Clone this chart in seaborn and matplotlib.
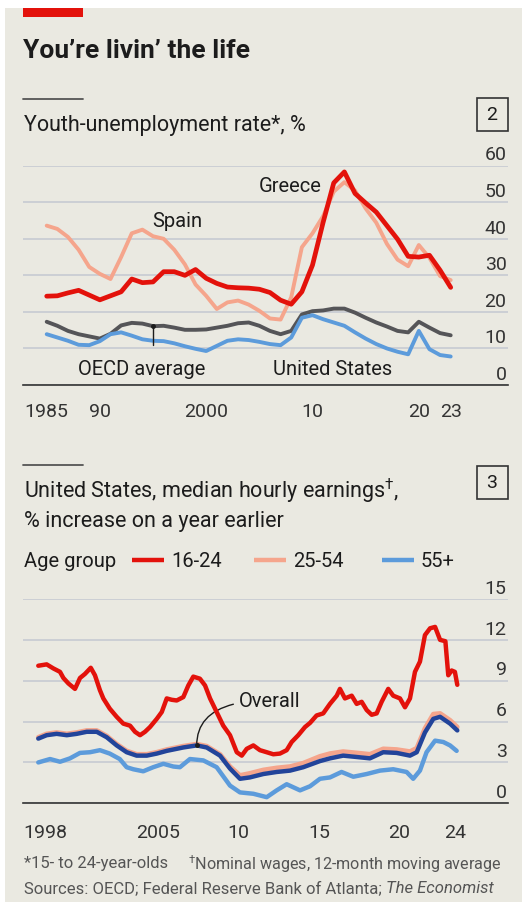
import numpy as np
import pandas as pd
import seaborn as sns
import matplotlib.pyplot as plt
from matplotlib.patches import Rectangle
from matplotlib.lines import Line2D

# ---- chart 2: youth-unemployment rate, %, annual
years = list(range(1985, 2024))
greece = [24.3, 24.4, 25.2, 25.9, 24.6, 23.3, 24.4, 25.5, 29.0, 28.0, 28.2, 31.0, 31.0, 30.0,
          31.6, 29.2, 27.8, 26.8, 26.6, 26.5, 26.2, 25.3, 23.2, 22.1, 25.5, 32.8, 44.5, 55.3,
          58.3, 52.4, 49.8, 47.3, 43.6, 39.9, 35.2, 35.0, 35.5, 31.4, 26.7]
spain = [43.6, 42.7, 40.5, 37.0, 32.3, 30.4, 29.0, 35.0, 41.5, 42.5, 40.7, 40.0, 37.0, 33.0,
         27.5, 24.4, 20.8, 22.6, 23.1, 22.0, 20.3, 18.2, 17.9, 24.0, 37.7, 41.5, 46.2, 52.9,
         55.5, 53.2, 48.3, 44.4, 38.6, 34.3, 32.5, 38.3, 34.8, 29.8, 28.7]
oecd = [17.3, 16.2, 14.8, 13.9, 13.3, 12.7, 14.0, 16.3, 17.0, 16.8, 16.1, 16.2, 15.7, 15.1,
        15.1, 15.2, 15.7, 16.2, 16.9, 17.1, 16.2, 14.8, 13.9, 14.8, 19.3, 20.2, 20.4, 20.9,
        20.9, 19.8, 18.4, 17.1, 16.0, 14.8, 14.4, 17.3, 15.7, 14.2, 13.6]
usa = [13.9, 13.0, 12.1, 11.0, 10.9, 12.0, 13.9, 14.4, 13.5, 12.5, 12.1, 12.0, 11.4, 10.6,
       9.9, 9.3, 10.7, 12.1, 12.5, 12.3, 11.8, 11.2, 10.9, 13.0, 18.4, 19.1, 18.0, 17.1,
       16.2, 14.4, 12.7, 11.2, 10.0, 9.1, 8.4, 14.8, 9.8, 8.2, 7.8]

top_ticks = [1985, 1990, 2000, 2010, 2020, 2023]
top_ticklabels = ["1985", "90", "2000", "10", "20", "23"]
top_ylevels = [0, 10, 20, 30, 40, 50, 60]

# ---- chart 3: median hourly earnings growth, % y/y (dates in decimal years)
t_1624 = [1998.06, 1998.58, 1999.0, 1999.41, 1999.62, 1999.93, 2000.34, 2000.65, 2000.96,
          2001.32, 2001.58, 2001.89, 2002.1, 2002.5, 2002.93, 2003.34, 2003.76, 2004.07,
          2004.38, 2004.69, 2005.0, 2005.42, 2005.73, 2006.04, 2006.35, 2006.66, 2007.07,
          2007.38, 2007.69, 2008.1, 2008.42, 2008.73, 2009.14, 2009.55, 2009.97, 2010.39,
          2010.7, 2011.01, 2011.42, 2011.83, 2012.25, 2012.66, 2013.07, 2013.49, 2013.8,
          2014.21, 2014.63, 2014.94, 2015.35, 2015.76, 2016.18, 2016.6, 2016.8, 2017.11,
          2017.53, 2017.84, 2018.15, 2018.46, 2018.77, 2019.08, 2019.39, 2019.8, 2020.11,
          2020.53, 2020.84, 2021.15, 2021.46, 2021.77, 2022.08, 2022.4, 2022.71, 2023.02,
          2023.35, 2023.53, 2023.74, 2023.94, 2024.09]
v_1624 = [10.1, 10.2, 9.9, 9.65, 9.2, 8.8, 8.4, 9.2, 9.5, 9.95, 9.4, 8.3, 7.7, 6.95, 6.35,
          5.85, 5.7, 5.25, 5.0, 5.25, 5.6, 6.2, 6.7, 7.7, 7.6, 7.55, 7.8, 8.65, 9.3, 9.15,
          8.65, 7.7, 6.7, 5.7, 5.0, 3.75, 3.5, 4.0, 4.25, 3.9, 3.75, 3.6, 3.65, 3.9, 4.5,
          5.0, 5.6, 5.9, 6.45, 6.6, 7.3, 7.9, 8.4, 7.7, 7.9, 7.3, 7.45, 6.85, 6.5, 6.6, 7.45,
          8.4, 7.9, 7.7, 7.05, 7.7, 9.65, 10.4, 12.35, 12.85, 12.95, 12.0, 11.9, 9.4, 9.75,
          9.65, 8.7]

t_all = [1998.06, 1998.58, 1999.2, 1999.83, 2000.45, 2001.07, 2001.69, 2002.31, 2002.93,
         2003.55, 2004.17, 2004.8, 2005.42, 2006.04, 2006.66, 2007.07, 2007.9, 2008.52,
         2009.35, 2009.97, 2010.59, 2011.2, 2012.04, 2012.87, 2013.7, 2014.52, 2015.56,
         2016.18, 2017.0, 2017.84, 2018.66, 2019.49, 2020.32, 2021.15, 2021.57, 2022.08,
         2022.6, 2023.02, 2023.64, 2024.09]
v_all = [4.75, 5.0, 5.1, 5.0, 5.1, 5.25, 5.25, 4.85, 4.25, 3.75, 3.5, 3.5, 3.65, 3.85, 4.0,
         4.1, 4.25, 4.1, 3.5, 2.55, 1.8, 1.9, 2.15, 2.3, 2.4, 2.65, 3.1, 3.3, 3.5, 3.4, 3.3,
         3.75, 3.7, 3.5, 3.75, 5.2, 6.2, 6.35, 5.85, 5.35]
v_2554 = [4.85, 5.1, 5.2, 5.1, 5.2, 5.35, 5.35, 4.95, 4.35, 3.85, 3.6, 3.6, 3.75, 3.95, 4.1,
          4.2, 4.35, 4.2, 3.6, 2.7, 2.05, 2.2, 2.45, 2.6, 2.7, 2.95, 3.45, 3.65, 3.8, 3.7,
          3.6, 4.0, 3.95, 3.8, 4.05, 5.5, 6.55, 6.6, 6.1, 5.6]

t_55 = [1998.06, 1998.79, 1999.41, 2000.03, 2000.65, 2001.27, 2001.89, 2002.5, 2003.12,
        2003.55, 2003.96, 2004.58, 2005.2, 2005.83, 2006.45, 2006.86, 2007.48, 2008.31,
        2009.14, 2009.97, 2010.59, 2011.42, 2012.25, 2012.87, 2013.49, 2014.32, 2014.94,
        2015.56, 2016.18, 2016.9, 2017.63, 2018.46, 2019.29, 2020.11, 2020.94, 2021.35,
        2021.77, 2022.18, 2022.71, 2023.22, 2023.64, 2024.05]
v_55 = [3.0, 3.25, 3.05, 3.3, 3.7, 3.75, 3.9, 3.65, 3.25, 2.65, 2.5, 2.35, 2.65, 2.9, 2.7,
        2.65, 3.25, 3.15, 2.65, 1.3, 0.8, 0.7, 0.45, 0.95, 1.4, 0.95, 1.25, 1.8, 1.9, 2.3,
        1.95, 2.15, 2.4, 2.5, 2.3, 1.8, 2.4, 3.75, 4.6, 4.5, 4.25, 3.85]

bot_ticks = [1998.5, 2005.5, 2010.5, 2015.5, 2020.5, 2023.97]
bot_ticklabels = ["1998", "2005", "10", "15", "20", "24"]
bot_ylevels = [0, 3, 6, 9, 12, 15]

# colours
RED = "#E3120B"
SALMON = "#F5A58C"
BLUE = "#5C9BDB"
DARKBLUE = "#22449A"
GREY = "#555558"
BG = "#EAE9E1"
GRID = "#C9CDD3"
INK = "#1C1C1C"
AXC = "#333333"

sns.set_style("white")
plt.rcParams["font.family"] = ["Roboto", "DejaVu Sans"]
plt.rcParams["mathtext.fontset"] = "custom"
plt.rcParams["mathtext.rm"] = "Roboto"
plt.rcParams["mathtext.it"] = "Roboto"

W, H = 522, 903
fig = plt.figure(figsize=(W / 100, H / 100), dpi=100)
fig.patch.set_facecolor("white")


def fx(x):
    return x / W


def fy(y):
    return 1 - y / H


fig.add_artist(Rectangle((fx(5), 0), 1 - fx(5), fy(9), transform=fig.transFigure,
                         facecolor=BG, edgecolor="none", zorder=-10))
fig.add_artist(Rectangle((fx(23), fy(18)), fx(83) - fx(23), fy(9) - fy(18),
                         transform=fig.transFigure, facecolor=RED, edgecolor="none"))

fig.text(fx(23), fy(51), "You\u2019re livin\u2019 the life", fontsize=19, fontweight="bold",
         color=INK, va="center", ha="left")


def section_head(y_rule, lines, num, y_box):
    fig.add_artist(Line2D([fx(23), fx(83)], [fy(y_rule), fy(y_rule)], color="#555555",
                          lw=1.3, transform=fig.transFigure))
    for ytxt, s in lines:
        fig.text(fx(24), fy(ytxt), s, fontsize=15.5, color=INK, va="center", ha="left")
    fig.add_artist(Rectangle((fx(476.5), fy(y_box + 33)), fx(31), 33 / H,
                             transform=fig.transFigure, facecolor="none",
                             edgecolor=AXC, lw=1.2))
    fig.text(fx(492), fy(y_box + 16.5), num, fontsize=14, color=INK, ha="center",
             va="center")


section_head(99.5, [(125, "Youth-unemployment rate*, %")], "2", 99)
section_head(466, [(491, "United States, median hourly earnings$^{\u2020}$,"),
                   (521, "% increase on a year earlier")], "3", 467)


def style_axes(ax, ylevels, ylim, xlim):
    ax.set_facecolor("none")
    ax.set_xlim(*xlim)
    ax.set_ylim(*ylim)
    ax.set(xlabel="", ylabel="")
    for s in ["left", "top", "right"]:
        ax.spines[s].set_visible(False)
    ax.spines["bottom"].set_color(AXC)
    ax.spines["bottom"].set_linewidth(1.2)
    ax.set_yticks(ylevels)
    ax.tick_params(axis="y", length=0, labelleft=False)
    ax.yaxis.grid(True, color=GRID, lw=1.3)
    ax.set_axisbelow(True)
    for v in ylevels:
        ax.annotate(str(v), xy=(1, v), xycoords=("axes fraction", "data"),
                    xytext=(-1, 4.5), textcoords="offset points", ha="right",
                    va="baseline", fontsize=14, color=AXC)


# ---------------- top chart
ax1 = fig.add_axes([fx(23), fy(386), fx(508) - fx(23), (386 - 166.7) / H])
df_top = pd.DataFrame({"year": years, "Greece": greece, "Spain": spain,
                       "OECD average": oecd, "United States": usa})
sns.lineplot(data=df_top, x="year", y="Spain", color=SALMON, lw=2.8, ax=ax1, zorder=3)
sns.lineplot(data=df_top, x="year", y="OECD average", color=GREY, lw=2.8, ax=ax1, zorder=3)
sns.lineplot(data=df_top, x="year", y="United States", color=BLUE, lw=2.8, ax=ax1, zorder=3)
sns.lineplot(data=df_top, x="year", y="Greece", color=RED, lw=3.4, ax=ax1, zorder=4)
style_axes(ax1, top_ylevels, (0, 60), (1982.77, 2028.39))
ax1.set_xticks(top_ticks, top_ticklabels)
ax1.set_xticks(years, minor=True)
ax1.tick_params(axis="x", which="both", direction="out", length=4.5, width=1, color=AXC,
                labelsize=14, labelcolor=AXC, pad=8)

ax1.text(2010.9, 54.5, "Greece", fontsize=14.5, color=INK, ha="right", va="center")
ax1.text(1997.3, 45.0, "Spain", fontsize=14.5, color=INK, ha="center", va="center")
ax1.text(2011.9, 4.4, "United States", fontsize=14.5, color=INK, ha="center", va="center")
ax1.annotate("OECD average", xy=(1995, oecd[years.index(1995)]), xytext=(1993.9, 4.4),
             fontsize=14.5, color=INK, ha="center", va="center",
             arrowprops=dict(arrowstyle="-", color=INK, lw=1, shrinkA=8, shrinkB=0,
                             connectionstyle="angle,angleA=0,angleB=90,rad=0",
                             relpos=(0.56, 1.0)))
ax1.plot([1995], [oecd[years.index(1995)]], "o", color=INK, ms=2.5, zorder=6)

# ---------------- bottom chart
ax2 = fig.add_axes([fx(23), fy(804.3), fx(508) - fx(23), (804.3 - 600) / H])
df_a = pd.DataFrame({"t": t_all, "overall": v_all, "25-54": v_2554})
df_y = pd.DataFrame({"t": t_1624, "16-24": v_1624})
df_o = pd.DataFrame({"t": t_55, "55+": v_55})
sns.lineplot(data=df_o, x="t", y="55+", color=BLUE, lw=3.2, ax=ax2, zorder=3)
sns.lineplot(data=df_a, x="t", y="25-54", color=SALMON, lw=3.4, ax=ax2, zorder=3)
sns.lineplot(data=df_a, x="t", y="overall", color=DARKBLUE, lw=3.2, ax=ax2, zorder=4)
sns.lineplot(data=df_y, x="t", y="16-24", color=RED, lw=3.2, ax=ax2, zorder=5)
style_axes(ax2, bot_ylevels, (0, 15), (1997.11, 2027.24))
ax2.set_xticks(bot_ticks, bot_ticklabels)
ax2.set_xticks(list(range(1998, 2025)), minor=True)
ax2.tick_params(axis="x", which="major", length=0, labelsize=14, labelcolor=AXC, pad=14)
ax2.tick_params(axis="x", which="minor", direction="out", length=5, width=1, color=AXC)

ax2.annotate("Overall", xy=(2007.9, 4.25), xytext=(2010.55, 7.56), fontsize=14.5,
             color=INK, ha="left", va="center",
             arrowprops=dict(arrowstyle="-", color=INK, lw=1, shrinkA=2, shrinkB=0,
                             connectionstyle="angle3,angleA=0,angleB=90"))
ax2.plot([2007.9], [4.25], "o", color=INK, ms=2.5, zorder=6)

# legend row
fig.text(fx(24), fy(561.5), "Age group", fontsize=14.5, color=INK, va="center", ha="left")
for x0, lab, c in [(132, "16-24", RED), (254, "25-54", SALMON), (382, "55+", BLUE)]:
    fig.add_artist(Line2D([fx(x0), fx(x0 + 32)], [fy(561), fy(561)], color=c, lw=3.2,
                          transform=fig.transFigure, solid_capstyle="butt"))
    fig.text(fx(x0 + 39), fy(561.5), lab, fontsize=14.5, color=INK, va="center", ha="left")

# footnotes
FOOT = "#555555"
fig.text(fx(24), fy(864), "*15- to 24-year-olds", fontsize=12, color=FOOT, va="center")
fig.text(fx(188), fy(864), "$^{\u2020}$Nominal wages, 12-month moving average", fontsize=11.6,
         color=FOOT, va="center")
src = fig.text(fx(24), fy(889), "Sources: OECD; Federal Reserve Bank of Atlanta; ",
               fontsize=12, color=FOOT, va="center")
fig.canvas.draw()
bb = src.get_window_extent()
fig.text(bb.x1 / W, fy(889), "The Economist", fontsize=12, color=FOOT, style="italic",
         va="center")

fig.savefig("out.png", dpi=100, facecolor=fig.get_facecolor())
